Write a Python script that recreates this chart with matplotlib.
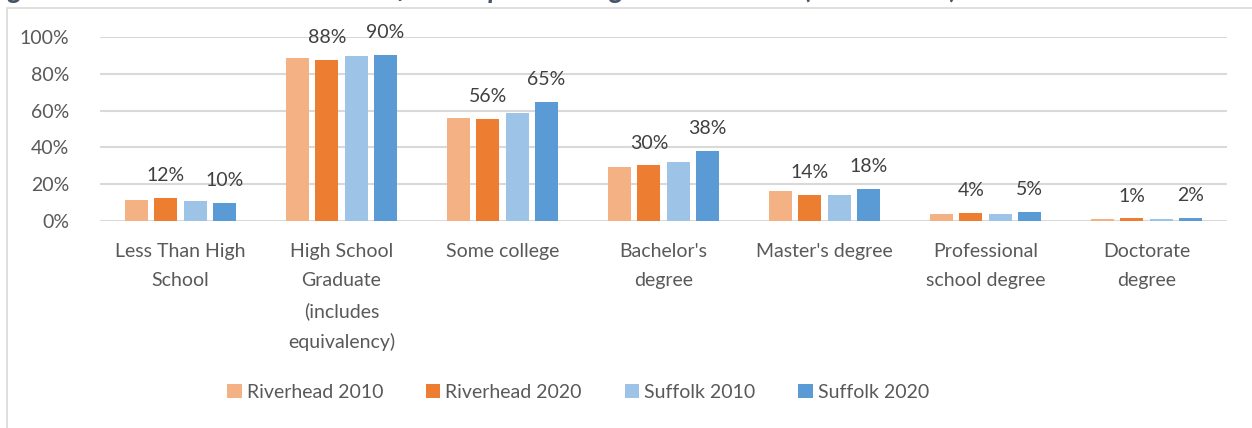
import numpy as np
import matplotlib
matplotlib.use("Agg")
import matplotlib.pyplot as plt
from matplotlib.patches import Rectangle

plt.rcParams['font.family'] = ['Lato', 'DejaVu Sans']

categories = ['Less Than High\nSchool', 'High School\nGraduate\n(includes\nequivalency)',
              'Some college', "Bachelor's\ndegree", "Master's degree",
              'Professional\nschool degree', 'Doctorate\ndegree']
series_names = ['Riverhead 2010', 'Riverhead 2020', 'Suffolk 2010', 'Suffolk 2020']
riverhead_2010 = [11.2, 88.8, 55.8, 29.5, 16.3, 3.8, 1.1]
riverhead_2020 = [12.4, 87.6, 55.6, 30.2, 14.1, 4.2, 1.4]
suffolk_2010 = [10.7, 89.5, 58.7, 31.9, 14.1, 3.6, 1.1]
suffolk_2020 = [9.8, 90.4, 64.6, 38.2, 17.5, 4.9, 1.6]
yticks = [0, 20, 40, 60, 80, 100]
title = 'Figure 9: Educational Attainment of the Population Age 25 and Older (2010-2020)'

colors = ['#F4B183', '#ED7D31', '#9DC3E6', '#5B9BD5']
labeled = [False, True, False, True]
text_color = '#595959'

fig = plt.figure(figsize=(12.52, 4.28), dpi=100)
ax = fig.add_axes([100/1252, 1-221/428, 1127/1252, 184/428])

# outer chart frame (cut off at right and bottom like the reference)
fig.patches.append(Rectangle((7/1252, -0.1), 1.2, 1-8/428+0.1, transform=fig.transFigure,
                             fill=False, edgecolor='#D9D9D9', linewidth=1.2, zorder=0))
# title sits mostly above the crop, only descenders show
fig.text(-0.01, 1+2/428, title, fontsize=20, style='italic', fontweight='bold',
         color='#44546A', va='baseline', ha='left')

x = np.arange(len(categories))
step = 0.182
width = 0.143
all_series = [riverhead_2010, riverhead_2020, suffolk_2010, suffolk_2020]
for i, vals in enumerate(all_series):
    pos = x + (i - 1.5) * step
    bars = ax.bar(pos, vals, width, color=colors[i], label=series_names[i], zorder=3)
    if labeled[i]:
        for b, v in zip(bars, vals):
            ax.annotate(f'{v:.0f}%', (b.get_x() + b.get_width()/2, v), xytext=(0, 10),
                        textcoords='offset points', ha='center', va='bottom',
                        fontsize=14, color='#404040')

ax.set_xlim(-0.5, len(categories) - 0.5)
ax.set_ylim(0, 100)
ax.set_yticks(yticks)
ax.set_yticklabels([f'{t}%' for t in yticks])
ax.set_xticks(x)
ax.set_xticklabels(categories, linespacing=1.85)
ax.tick_params(axis='y', length=0, pad=22, labelsize=14, labelcolor=text_color)
ax.tick_params(axis='x', length=0, pad=16, labelsize=14, labelcolor=text_color)
ax.grid(axis='y', color='#D9D9D9', linewidth=1.5, zorder=0)
for s in ax.spines.values():
    s.set_visible(False)
ax.set_axisbelow(True)

fig.legend(loc='center', bbox_to_anchor=(578/1252, 1-392/428), ncol=4, frameon=False,
           fontsize=14, labelcolor=text_color, handlelength=0.75, handleheight=0.75,
           handletextpad=0.25, columnspacing=2.2)

fig.savefig('out.png', dpi=100)
